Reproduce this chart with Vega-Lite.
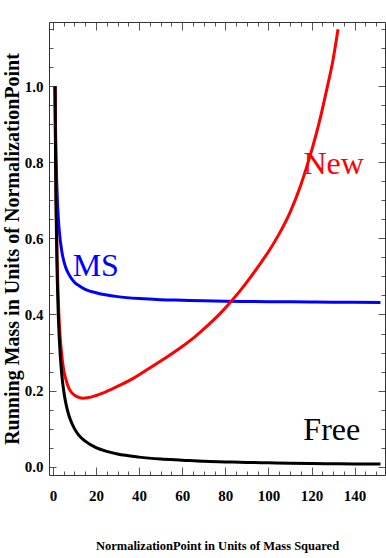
{
  "$schema": "https://vega.github.io/schema/vega-lite/v6.json",
  "width": 336,
  "height": 453,
  "autosize": {"type": "none"},
  "padding": {"left": 49, "top": 22, "right": 1, "bottom": 83},
  "background": "white",
  "config": {
    "view": {"stroke": null},
    "axis": {
      "domainColor": "#333333",
      "domainWidth": 1,
      "tickColor": "#555555",
      "tickWidth": 1,
      "grid": false,
      "labelFont": "Liberation Serif",
      "labelFontWeight": "bold",
      "labelFontSize": 15,
      "labelColor": "black",
      "titleFont": "Liberation Serif",
      "titleFontWeight": "bold",
      "titleColor": "black"
    }
  },
  "datasets": {
    "curves": [
      {"x": 1, "y": 1.0, "series": "MS"},
      {"x": 1.25, "y": 0.884, "series": "MS"},
      {"x": 1.5, "y": 0.808, "series": "MS"},
      {"x": 2, "y": 0.713, "series": "MS"},
      {"x": 2.5, "y": 0.656, "series": "MS"},
      {"x": 3, "y": 0.618, "series": "MS"},
      {"x": 4, "y": 0.571, "series": "MS"},
      {"x": 5, "y": 0.542, "series": "MS"},
      {"x": 6, "y": 0.523, "series": "MS"},
      {"x": 7, "y": 0.510, "series": "MS"},
      {"x": 8, "y": 0.500, "series": "MS"},
      {"x": 10, "y": 0.485, "series": "MS"},
      {"x": 12, "y": 0.476, "series": "MS"},
      {"x": 15, "y": 0.466, "series": "MS"},
      {"x": 20, "y": 0.457, "series": "MS"},
      {"x": 25, "y": 0.451, "series": "MS"},
      {"x": 30, "y": 0.447, "series": "MS"},
      {"x": 40, "y": 0.442, "series": "MS"},
      {"x": 50, "y": 0.439, "series": "MS"},
      {"x": 60, "y": 0.4375, "series": "MS"},
      {"x": 70, "y": 0.436, "series": "MS"},
      {"x": 80, "y": 0.435, "series": "MS"},
      {"x": 90, "y": 0.4343, "series": "MS"},
      {"x": 100, "y": 0.4337, "series": "MS"},
      {"x": 110, "y": 0.4332, "series": "MS"},
      {"x": 120, "y": 0.4328, "series": "MS"},
      {"x": 130, "y": 0.4324, "series": "MS"},
      {"x": 140, "y": 0.4321, "series": "MS"},
      {"x": 152, "y": 0.4318, "series": "MS"},
      {"x": 1, "y": 1.0, "series": "New"},
      {"x": 1.25, "y": 0.83, "series": "New"},
      {"x": 1.5, "y": 0.70, "series": "New"},
      {"x": 2, "y": 0.54, "series": "New"},
      {"x": 2.5, "y": 0.44, "series": "New"},
      {"x": 3, "y": 0.375, "series": "New"},
      {"x": 4, "y": 0.30, "series": "New"},
      {"x": 5, "y": 0.255, "series": "New"},
      {"x": 6, "y": 0.23, "series": "New"},
      {"x": 7, "y": 0.212, "series": "New"},
      {"x": 8, "y": 0.2, "series": "New"},
      {"x": 10, "y": 0.188, "series": "New"},
      {"x": 12, "y": 0.182, "series": "New"},
      {"x": 14, "y": 0.18, "series": "New"},
      {"x": 16, "y": 0.181, "series": "New"},
      {"x": 20, "y": 0.187, "series": "New"},
      {"x": 25, "y": 0.198, "series": "New"},
      {"x": 30, "y": 0.211, "series": "New"},
      {"x": 36, "y": 0.228, "series": "New"},
      {"x": 44, "y": 0.256, "series": "New"},
      {"x": 52, "y": 0.285, "series": "New"},
      {"x": 60, "y": 0.316, "series": "New"},
      {"x": 66, "y": 0.342, "series": "New"},
      {"x": 72, "y": 0.372, "series": "New"},
      {"x": 78, "y": 0.405, "series": "New"},
      {"x": 83, "y": 0.436, "series": "New"},
      {"x": 90, "y": 0.485, "series": "New"},
      {"x": 95, "y": 0.524, "series": "New"},
      {"x": 100, "y": 0.565, "series": "New"},
      {"x": 105, "y": 0.612, "series": "New"},
      {"x": 110, "y": 0.668, "series": "New"},
      {"x": 115, "y": 0.74, "series": "New"},
      {"x": 120, "y": 0.83, "series": "New"},
      {"x": 124, "y": 0.915, "series": "New"},
      {"x": 127, "y": 0.99, "series": "New"},
      {"x": 130, "y": 1.07, "series": "New"},
      {"x": 132.3, "y": 1.15, "series": "New"},
      {"x": 1, "y": 1.0, "series": "Free"},
      {"x": 1.25, "y": 0.8, "series": "Free"},
      {"x": 1.5, "y": 0.667, "series": "Free"},
      {"x": 2, "y": 0.5, "series": "Free"},
      {"x": 2.5, "y": 0.4, "series": "Free"},
      {"x": 3, "y": 0.333, "series": "Free"},
      {"x": 4, "y": 0.25, "series": "Free"},
      {"x": 5, "y": 0.2, "series": "Free"},
      {"x": 6, "y": 0.167, "series": "Free"},
      {"x": 7, "y": 0.143, "series": "Free"},
      {"x": 8, "y": 0.125, "series": "Free"},
      {"x": 10, "y": 0.1, "series": "Free"},
      {"x": 12, "y": 0.083, "series": "Free"},
      {"x": 15, "y": 0.067, "series": "Free"},
      {"x": 20, "y": 0.05, "series": "Free"},
      {"x": 25, "y": 0.04, "series": "Free"},
      {"x": 30, "y": 0.033, "series": "Free"},
      {"x": 40, "y": 0.025, "series": "Free"},
      {"x": 50, "y": 0.02, "series": "Free"},
      {"x": 60, "y": 0.017, "series": "Free"},
      {"x": 70, "y": 0.014, "series": "Free"},
      {"x": 80, "y": 0.0125, "series": "Free"},
      {"x": 90, "y": 0.011, "series": "Free"},
      {"x": 100, "y": 0.01, "series": "Free"},
      {"x": 110, "y": 0.009, "series": "Free"},
      {"x": 120, "y": 0.0083, "series": "Free"},
      {"x": 130, "y": 0.0077, "series": "Free"},
      {"x": 140, "y": 0.0071, "series": "Free"},
      {"x": 152, "y": 0.0066, "series": "Free"}
    ],
    "labels": [
      {"x": 19.9, "y": 0.528, "series": "MS", "label": "MS"},
      {"x": 130.3, "y": 0.796, "series": "New", "label": "New"},
      {"x": 129.4, "y": 0.097, "series": "Free", "label": "Free"}
    ]
  },
  "layer": [
    {
      "data": {"name": "curves"},
      "mark": {"type": "line", "strokeWidth": 3, "interpolate": "monotone", "clip": true},
      "encoding": {
        "x": {
          "field": "x", "type": "quantitative",
          "scale": {"domain": [-1.8, 154.1], "nice": false, "zero": false},
          "axis": {
            "orient": "bottom",
            "values": [0,5,10,15,20,25,30,35,40,45,50,55,60,65,70,75,80,85,90,95,100,105,110,115,120,125,130,135,140,145,150],
            "tickSize": {"condition": {"test": "datum.value % 20 === 0", "value": -8}, "value": -4},
            "labelExpr": "datum.value % 20 === 0 ? datum.label : ''",
            "labelPadding": 21,
            "labelBaseline": "top",
            "labelFlush": false,
            "title": "NormalizationPoint in Units of Mass Squared",
            "titleFontSize": 12.5,
            "titlePadding": 36
          }
        },
        "y": {
          "field": "y", "type": "quantitative",
          "scale": {"domain": [-0.022, 1.169], "nice": false, "zero": false},
          "axis": {
            "orient": "left",
            "values": [0,0.05,0.1,0.15,0.2,0.25,0.3,0.35,0.4,0.45,0.5,0.55,0.6,0.65,0.7,0.75,0.8,0.85,0.9,0.95,1.0,1.05,1.1,1.15],
            "format": ".1f",
            "tickSize": {"condition": {"test": "round(datum.value*100) % 20 === 0", "value": -7}, "value": -4},
            "labelExpr": "round(datum.value*100) % 20 === 0 ? datum.label : ''",
            "labelPadding": 13,
            "labelFlush": false,
            "title": "Running Mass in Units of NormalizationPoint",
            "titleFontSize": 20,
            "titlePadding": 2
          }
        },
        "color": {
          "field": "series", "type": "nominal",
          "scale": {"domain": ["Free", "MS", "New"], "range": ["#000000", "#0000ff", "#ff0000"]},
          "legend": null
        },
        "order": {"value": 0}
      }
    },
    {
      "data": {"name": "labels"},
      "mark": {"type": "text", "font": "Liberation Serif", "fontSize": 32, "align": "center", "baseline": "middle"},
      "encoding": {
        "x": {
          "field": "x", "type": "quantitative",
          "scale": {"domain": [-1.8, 154.1], "nice": false, "zero": false},
          "axis": {
            "orient": "top",
            "values": [0,5,10,15,20,25,30,35,40,45,50,55,60,65,70,75,80,85,90,95,100,105,110,115,120,125,130,135,140,145,150],
            "tickSize": {"condition": {"test": "datum.value % 20 === 0", "value": -8}, "value": -4},
            "labels": false,
            "title": null
          }
        },
        "y": {
          "field": "y", "type": "quantitative",
          "scale": {"domain": [-0.022, 1.169], "nice": false, "zero": false},
          "axis": {
            "orient": "right",
            "values": [0,0.05,0.1,0.15,0.2,0.25,0.3,0.35,0.4,0.45,0.5,0.55,0.6,0.65,0.7,0.75,0.8,0.85,0.9,0.95,1.0,1.05,1.1,1.15],
            "tickSize": {"condition": {"test": "round(datum.value*100) % 20 === 0", "value": -7}, "value": -4},
            "labels": false,
            "title": null
          }
        },
        "text": {"field": "label"},
        "color": {"field": "series", "type": "nominal", "legend": null}
      }
    }
  ],
  "resolve": {"axis": {"x": "independent", "y": "independent"}}
}
